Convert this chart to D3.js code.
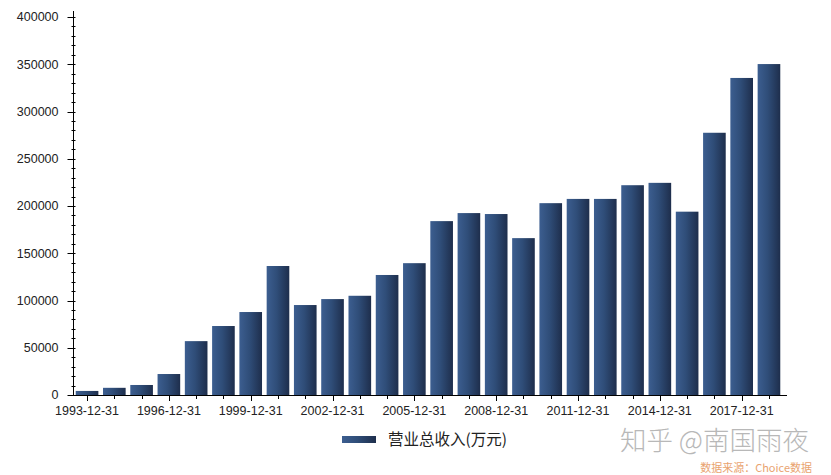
<!DOCTYPE html>
<html><head><meta charset="utf-8">
<script src="https://cdn.jsdelivr.net/npm/d3@7"></script>
<style>
body{margin:0;background:#fff;}
svg{display:block;font-family:Arial,"Liberation Sans",sans-serif;}
</style></head>
<body><svg id="c" width="831" height="475"></svg>
<script>
const years = ["1993-12-31","1994-12-31","1995-12-31","1996-12-31","1997-12-31","1998-12-31","1999-12-31","2000-12-31","2001-12-31","2002-12-31","2003-12-31","2004-12-31","2005-12-31","2006-12-31","2007-12-31","2008-12-31","2009-12-31","2010-12-31","2011-12-31","2012-12-31","2013-12-31","2014-12-31","2015-12-31","2016-12-31","2017-12-31","2018-12-31"];
const revenue = [4300,7600,10600,22200,57000,73000,87800,136500,95200,101500,105000,127000,139500,184000,192500,191500,166000,203000,207500,207500,222000,224500,194000,277500,335500,350200];
const yTicks = [0,50000,100000,150000,200000,250000,300000,350000,400000];
const seriesName = "营业总收入(万元)";

(function(){
const svg = d3.select("#c");
const L = 73, R = 783, AXR = 787, T = 17, B = 395;
const x = d3.scaleBand().domain(years).range([L, R]).paddingInner(0.17).paddingOuter(0.1);
const y = d3.scaleLinear().domain([0, 400000]).range([B, T]);

const defs = svg.append("defs");
const g = defs.append("linearGradient").attr("id","bg").attr("x1","0").attr("x2","1").attr("y1","0").attr("y2","0");
g.append("stop").attr("offset","0").attr("stop-color","#3c5e90");
g.append("stop").attr("offset","0.45").attr("stop-color","#2f4d78");
g.append("stop").attr("offset","1").attr("stop-color","#1e2e4c");

svg.append("g").selectAll("rect").data(years).join("rect")
  .attr("x", d => x(d)).attr("width", x.bandwidth())
  .attr("y", (d,i) => y(revenue[i])).attr("height", (d,i) => y(0) - y(revenue[i]))
  .attr("fill","url(#bg)");

const ya = svg.append("g").attr("transform",`translate(${L+0.5},0)`);
ya.append("line").attr("x1",0).attr("x2",0).attr("y1",T-6).attr("y2",B).attr("stroke","#000");
const minor = d3.range(0, 400001, 10000);
ya.selectAll(".mn").data(minor).join("line").attr("class","mn")
  .attr("x1",-2).attr("x2",2).attr("y1",d=>Math.round(y(d))+0.5).attr("y2",d=>Math.round(y(d))+0.5).attr("stroke","#000");
ya.selectAll(".mj").data(yTicks).join("line").attr("class","mj")
  .attr("x1",-6).attr("x2",0).attr("y1",d=>Math.round(y(d))+0.5).attr("y2",d=>Math.round(y(d))+0.5).attr("stroke","#000");
ya.selectAll("text").data(yTicks).join("text")
  .attr("x",-15).attr("y",d=>y(d)).attr("dy","0.35em").attr("text-anchor","end")
  .attr("font-size",12.5).attr("fill","#222").text(d=>d);

const xa = svg.append("g");
xa.append("line").attr("x1",L).attr("x2",AXR).attr("y1",B+0.5).attr("y2",B+0.5).attr("stroke","#000");
xa.selectAll(".t").data(years).join("line").attr("class","t")
  .attr("x1",d=>Math.round(x(d)+x.bandwidth()/2)+0.5).attr("x2",d=>Math.round(x(d)+x.bandwidth()/2)+0.5)
  .attr("y1",B).attr("y2",(d,i)=> B + (i%3===0?6:4)).attr("stroke","#000");
xa.selectAll("text").data(years.filter((d,i)=>i%3===0)).join("text")
  .attr("x",d=>x(d)+x.bandwidth()/2).attr("y",B+20).attr("text-anchor","middle")
  .attr("font-size",12.5).attr("fill","#222").text(d=>d);

svg.append("rect").attr("x",342).attr("y",436).attr("width",34).attr("height",7).attr("fill","url(#bg)");
svg.append("text").attr("x",388).attr("y",445).attr("font-size",15.5).attr("fill","#222")
  .attr("font-family","'Noto Sans CJK SC',sans-serif").text(seriesName);

svg.append("text").attr("x",620).attr("y",450).attr("font-size",26.5).attr("fill","#b8b8b8")
  .attr("font-family","'Noto Sans CJK SC',sans-serif").attr("font-weight",300).text("知乎 @南国雨夜");
svg.append("text").attr("x",812).attr("y",472).attr("text-anchor","end").attr("font-size",11).attr("fill","#e9a36f")
  .attr("font-family","'Noto Sans CJK SC',sans-serif").text("数据来源：Choice数据");
})();
</script></body></html>
